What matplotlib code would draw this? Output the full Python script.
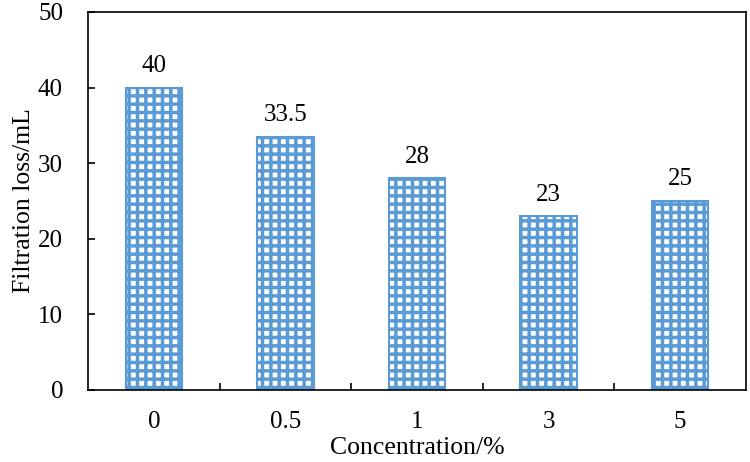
import numpy as np
import matplotlib.pyplot as plt

plt.rcParams["font.family"] = ["Liberation Serif", "DejaVu Serif"]
plt.rcParams["hatch.linewidth"] = 2.5
plt.rcParams["hatch.color"] = "#5B9BD5"

#
# Data
#
labels = ["0", "0.5", "1", "3", "5"]
loss = [40, 33.5, 28, 23, 25]
value_text = ["40", "33.5", "28", "23", "25"]

#
# Plot
#
fig = plt.figure(figsize=(7.5, 4.62), dpi=100)
ax = fig.add_axes([88 / 750, 72 / 462, 658 / 750, 378 / 462])

x = np.arange(len(labels))
bars = ax.bar(x, loss, width=0.43, color="white", edgecolor="#5B9BD5",
              hatch="++", linewidth=1.5)
for xi, yi, t in zip(x, loss, value_text):
    ax.text(xi, yi + 1.4, t, ha="center", va="bottom", fontsize=18)

ax.set_xlim(-0.5, len(labels) - 0.5)
ax.set_ylim(0, 50)
ax.set_yticks(range(0, 51, 10))
ax.set_xticks(x)
ax.set_xticklabels(labels)
ax.set_xticks(np.arange(0.5, len(labels) - 0.5, 1), minor=True)
ax.tick_params(axis="x", which="major", length=0, labelsize=18, pad=15)
ax.tick_params(axis="x", which="minor", direction="in", length=5, width=1.2)
ax.tick_params(axis="y", direction="in", length=5, width=1.2, labelsize=18, pad=18)
for s in ax.spines.values():
    s.set_linewidth(1.2)

ax.set_xlabel("Concentration/%", fontsize=18.5, labelpad=3)
ax.set_ylabel("Filtration loss/mL", fontsize=18.5, labelpad=2)

plt.savefig("out.png", dpi=100)
